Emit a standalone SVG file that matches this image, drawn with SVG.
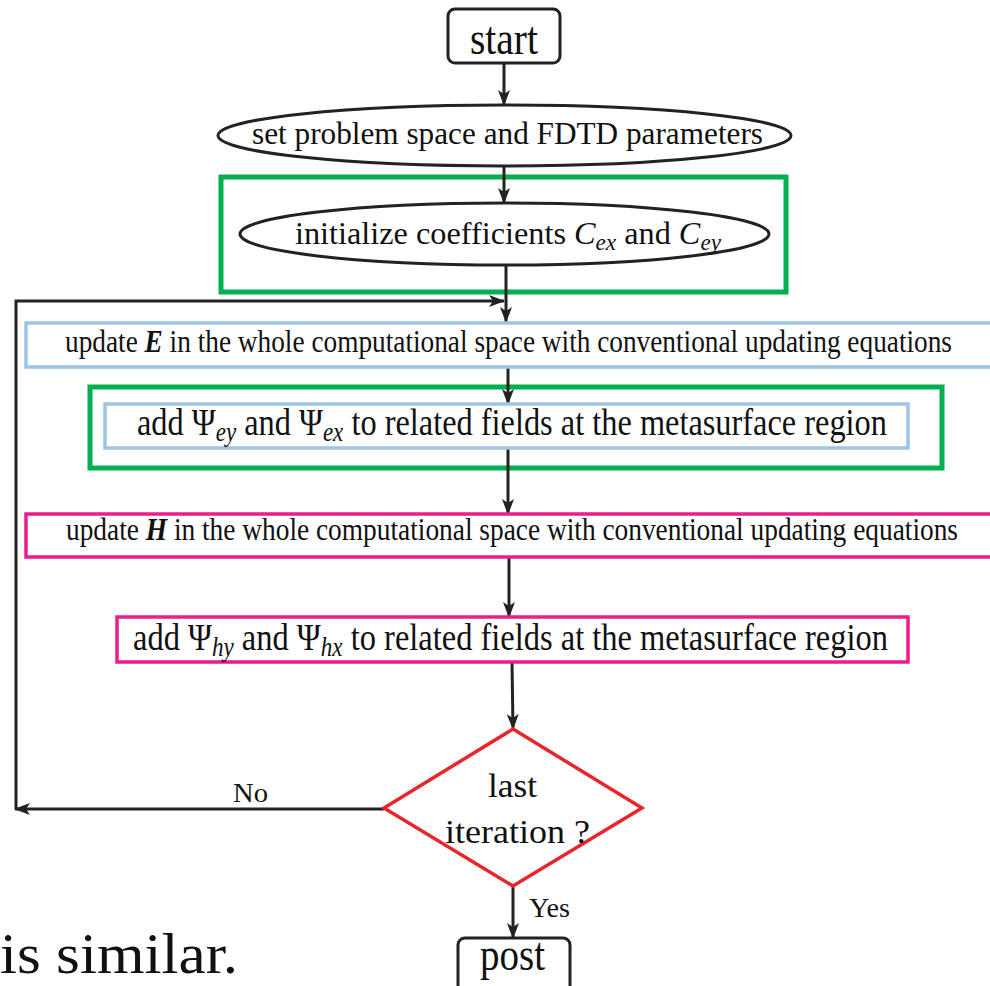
<svg xmlns="http://www.w3.org/2000/svg" width="990" height="986" viewBox="0 0 990 986">
<defs>
<marker id="ah" markerUnits="userSpaceOnUse" markerWidth="16" markerHeight="12" refX="15" refY="6" orient="auto">
<path d="M0,0 L16,6 L0,12 L4,6 z" fill="#222"/>
</marker>
<style>
text{font-family:"Liberation Serif","Times New Roman",serif;fill:#111;}
.c{stroke:#222;stroke-width:3;fill:none;}
.blk{fill:#fff;stroke:#222;stroke-width:3;}
.grn{fill:none;stroke:#00b050;stroke-width:5;}
.blu{fill:#fff;stroke:#9dc3e6;stroke-width:3.5;}
.pnk{fill:#fff;stroke:#ec1c8c;stroke-width:3.5;}
.red{fill:#fff;stroke:#e8262a;stroke-width:3.5;}
.m{font-style:italic;}
.b{font-style:italic;font-weight:bold;}
</style>
</defs>
<rect width="990" height="986" fill="#fff"/>

<g id="highlights">
<rect class="grn" x="221" y="177" width="565" height="115"/>
<rect class="grn" x="90" y="387" width="852" height="81"/>
</g>

<g id="connectors">
<line class="c" x1="504" y1="63" x2="504" y2="105" marker-end="url(#ah)"/>
<line class="c" x1="504" y1="166" x2="504" y2="203" marker-end="url(#ah)"/>
<line class="c" x1="506" y1="265" x2="506" y2="322" marker-end="url(#ah)"/>
<polyline class="c" points="16,809 16,301 504,301" marker-end="url(#ah)"/>
<line class="c" x1="508" y1="367" x2="508" y2="404" marker-end="url(#ah)"/>
<line class="c" x1="508" y1="448" x2="508" y2="514" marker-end="url(#ah)"/>
<line class="c" x1="509" y1="557" x2="509" y2="617" marker-end="url(#ah)"/>
<line class="c" x1="512" y1="662" x2="513" y2="729" marker-end="url(#ah)"/>
<line class="c" x1="384" y1="809" x2="15" y2="809" marker-end="url(#ah)"/>
<line class="c" x1="513" y1="886" x2="513" y2="938" marker-end="url(#ah)"/>
<text x="233" y="802" font-size="28" textLength="35" lengthAdjust="spacingAndGlyphs">No</text>
<text x="529" y="917" font-size="28" textLength="41" lengthAdjust="spacingAndGlyphs">Yes</text>
</g>

<g id="start">
<rect class="blk" x="448" y="9" width="112" height="54" rx="7"/>
<text x="470" y="54" font-size="46" textLength="68" lengthAdjust="spacingAndGlyphs">start</text>
</g>

<g id="set-params">
<ellipse class="blk" cx="504.5" cy="135.5" rx="286.5" ry="30.5"/>
<text x="252" y="144" font-size="32" textLength="511" lengthAdjust="spacingAndGlyphs">set problem space and FDTD parameters</text>
</g>

<g id="init-coeff">
<ellipse class="blk" cx="504.5" cy="234" rx="264.5" ry="31"/>
<text x="295" y="244" font-size="32" textLength="426" lengthAdjust="spacingAndGlyphs">initialize coefficients <tspan class="m">C</tspan><tspan class="m" font-size="23" dy="6">ex</tspan><tspan dy="-6"> and </tspan><tspan class="m">C</tspan><tspan class="m" font-size="23" dy="6">ey</tspan></text>
</g>

<g id="update-E">
<rect class="blu" x="26" y="323" width="968" height="44"/>
<text x="65" y="352" font-size="32" textLength="887" lengthAdjust="spacingAndGlyphs">update <tspan class="b">E</tspan> in the whole computational space with conventional updating equations</text>
</g>

<g id="add-psi-e">
<rect class="blu" x="105" y="404" width="803" height="44"/>
<text x="137" y="435" font-size="38" textLength="750" lengthAdjust="spacingAndGlyphs">add Ψ<tspan class="m" font-size="27" dy="6">ey</tspan><tspan dy="-6"> and Ψ</tspan><tspan class="m" font-size="27" dy="6">ex</tspan><tspan dy="-6"> to related fields at the metasurface region</tspan></text>
</g>

<g id="update-H">
<rect class="pnk" x="26" y="514" width="968" height="43"/>
<text x="66" y="540" font-size="32" textLength="892" lengthAdjust="spacingAndGlyphs">update <tspan class="b">H</tspan> in the whole computational space with conventional updating equations</text>
</g>

<g id="add-psi-h">
<rect class="pnk" x="117" y="617" width="791" height="45"/>
<text x="133" y="650" font-size="38" textLength="755" lengthAdjust="spacingAndGlyphs">add Ψ<tspan class="m" font-size="27" dy="6">hy</tspan><tspan dy="-6"> and Ψ</tspan><tspan class="m" font-size="27" dy="6">hx</tspan><tspan dy="-6"> to related fields at the metasurface region</tspan></text>
</g>

<g id="last-iteration">
<polygon class="red" points="513,729 642,808 513,886 384,808"/>
<text x="488" y="797" font-size="34" textLength="49" lengthAdjust="spacingAndGlyphs">last</text>
<text x="445" y="843" font-size="34" textLength="145" lengthAdjust="spacingAndGlyphs">iteration ?</text>
</g>

<g id="post">
<rect class="blk" x="458" y="938" width="112" height="60" rx="7"/>
<text x="480" y="970" font-size="46" textLength="65" lengthAdjust="spacingAndGlyphs">post</text>
</g>

<text x="0" y="973" font-size="58" textLength="238" lengthAdjust="spacingAndGlyphs">is similar.</text>
</svg>
